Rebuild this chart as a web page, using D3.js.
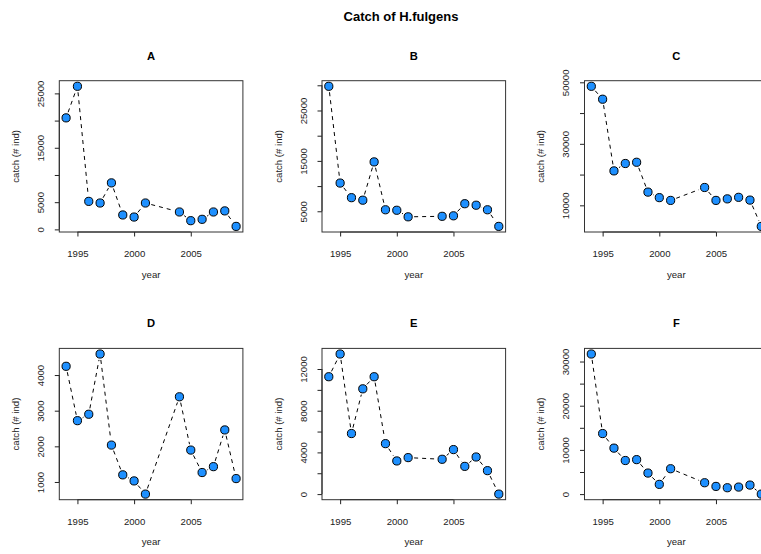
<!DOCTYPE html>
<html>
<head>
<meta charset="utf-8">
<script src="https://cdn.jsdelivr.net/npm/d3@7/dist/d3.min.js"></script>
<style>
  html, body { margin: 0; padding: 0; background: #fff; overflow: hidden; }
  svg { display: block; font-family: "Liberation Sans", Arial, Helvetica, sans-serif; }
</style>
</head>
<body>
<svg id="chart" width="761" height="554"></svg>
<script>
// Survey years (2002-2003 not sampled)
const years = [1994, 1995, 1996, 1997, 1998, 1999, 2000, 2001, 2004, 2005, 2006, 2007, 2008, 2009];

// Catch (number of individuals) per zone
const catchA = [20500, 26300, 5150, 4850, 8550, 2650, 2270, 4850, 3200, 1600, 1850, 3200, 3400, 550];
const catchB = [29800, 10600, 7700, 7200, 14800, 5300, 5200, 3900, 4000, 4100, 6500, 6200, 5300, 2000];
const catchC = [48700, 44500, 21200, 23600, 24000, 14300, 12500, 11600, 15800, 11600, 12100, 12600, 11700, 3150];
const catchD = [4245, 2720, 2900, 4590, 2035, 1200, 1030, 660, 3390, 1895, 1265, 1430, 2460, 1095];
const catchE = [11260, 13440, 5810, 10100, 11260, 4840, 3180, 3500, 3340, 4270, 2660, 3560, 2250, 0];
const catchF = [31700, 13700, 10400, 7600, 7800, 4760, 2200, 5740, 2570, 1740, 1440, 1590, 2040, 0];

// Axis ticks
const xTicks = [1995, 2000, 2005];
const yTicksA = [0, 5000, 10000, 15000, 20000, 25000];
const yLabelsA = [0, 5000, 15000, 25000];
const yTicksB = [5000, 10000, 15000, 20000, 25000, 30000];
const yLabelsB = [5000, 15000, 25000];
const yTicksC = [10000, 20000, 30000, 40000, 50000];
const yLabelsC = [10000, 30000, 50000];
const yTicksD = [1000, 2000, 3000, 4000];
const yLabelsD = [1000, 2000, 3000, 4000];
const yTicksE = [0, 2000, 4000, 6000, 8000, 10000, 12000];
const yLabelsE = [0, 4000, 8000, 12000];
const yTicksF = [0, 5000, 10000, 15000, 20000, 25000, 30000];
const yLabelsF = [0, 10000, 20000, 30000];

const panelNames = ["A", "B", "C", "D", "E", "F"];

const panels = [
  { name: panelNames[0], values: catchA, ticks: yTicksA, labels: yLabelsA },
  { name: panelNames[1], values: catchB, ticks: yTicksB, labels: yLabelsB },
  { name: panelNames[2], values: catchC, ticks: yTicksC, labels: yLabelsC },
  { name: panelNames[3], values: catchD, ticks: yTicksD, labels: yLabelsD },
  { name: panelNames[4], values: catchE, ticks: yTicksE, labels: yLabelsE },
  { name: panelNames[5], values: catchF, ticks: yTicksF, labels: yLabelsF }
];

const svg = d3.select("#chart");

// Layout of the 2 x 3 grid
const colLeft = [59.3, 322, 584.5];
const rowTop = [80.7, 348.4];
const boxW = 183.6;
const boxH = 151.3;
const tickLen = 4.5;
const tickFont = 9.6;
const pointR = 4.1;
const gap = 6;

// Pad a numeric range by 4% on each side
function padded(lo, hi) {
  const d = (hi - lo) * 0.04;
  return [lo - d, hi + d];
}

svg.append("text")
  .attr("x", 401)
  .attr("y", 20.5)
  .attr("text-anchor", "middle")
  .attr("font-size", 13)
  .attr("font-weight", "bold")
  .attr("fill", "#000")
  .text("Catch of H.fulgens");

panels.forEach((p, i) => {
  const left = colLeft[i % 3];
  const top = rowTop[Math.floor(i / 3)];
  const g = svg.append("g").attr("transform", `translate(${left},${top})`);

  const x = d3.scaleLinear()
    .domain(padded(d3.min(years), d3.max(years)))
    .range([0, boxW]);
  const y = d3.scaleLinear()
    .domain(padded(d3.min(p.values), d3.max(p.values)))
    .range([boxH, 0]);

  // Panel title
  g.append("text")
    .attr("x", boxW / 2)
    .attr("y", -21)
    .attr("text-anchor", "middle")
    .attr("font-size", 11.2)
    .attr("font-weight", "bold")
    .text(p.name);

  // Bottom axis
  const xAxis = d3.axisBottom(x)
    .tickValues(xTicks)
    .tickFormat(d3.format("d"))
    .tickSizeInner(tickLen)
    .tickSizeOuter(0)
    .tickPadding(13.5);
  const gx = g.append("g").attr("transform", `translate(0,${boxH})`).call(xAxis);
  gx.select(".domain")
    .attr("d", `M${x(xTicks[0])},0H${x(xTicks[xTicks.length - 1])}`)
    .attr("stroke", "#222");
  gx.selectAll(".tick line").attr("stroke", "#222");
  gx.selectAll(".tick text")
    .attr("font-size", tickFont)
    .attr("font-family", "Liberation Sans, Arial, sans-serif")
    .attr("fill", "#222");

  // Left axis: all ticks, labels only where they fit
  const yAxis = d3.axisLeft(y)
    .tickValues(p.ticks)
    .tickFormat(d => (p.labels.includes(d) ? String(d) : ""))
    .tickSizeInner(tickLen)
    .tickSizeOuter(0);
  const gy = g.append("g").call(yAxis);
  gy.select(".domain")
    .attr("d", `M0,${y(p.ticks[0])}V${y(p.ticks[p.ticks.length - 1])}`)
    .attr("stroke", "#222");
  gy.selectAll(".tick line").attr("stroke", "#222");
  gy.selectAll(".tick text")
    .attr("x", null)
    .attr("dy", null)
    .attr("transform", "translate(-15.3,0) rotate(-90)")
    .attr("text-anchor", "middle")
    .attr("font-size", tickFont)
    .attr("font-family", "Liberation Sans, Arial, sans-serif")
    .attr("fill", "#222");

  // Frame around plotting region
  g.append("rect")
    .attr("x", 0).attr("y", 0)
    .attr("width", boxW).attr("height", boxH)
    .attr("fill", "none")
    .attr("stroke", "#333")
    .attr("stroke-width", 1);

  // Axis titles
  g.append("text")
    .attr("x", boxW / 2)
    .attr("y", boxH + 45.7)
    .attr("text-anchor", "middle")
    .attr("font-size", tickFont)
    .attr("fill", "#222")
    .text("year");
  g.append("text")
    .attr("transform", `translate(-40.3,${boxH / 2}) rotate(-90)`)
    .attr("text-anchor", "middle")
    .attr("font-size", tickFont)
    .attr("fill", "#222")
    .text("catch (# ind)");

  // Dashed connectors, broken around each point
  const pts = years.map((yr, k) => [x(yr), y(p.values[k])]);
  const segs = d3.pairs(pts).map(([a, b]) => {
    const dx = b[0] - a[0], dy = b[1] - a[1];
    const len = Math.hypot(dx, dy);
    if (len <= 2 * gap) return null;
    const ux = dx / len, uy = dy / len;
    return [a[0] + ux * gap, a[1] + uy * gap, b[0] - ux * gap, b[1] - uy * gap];
  }).filter(s => s);
  g.selectAll("line.seg")
    .data(segs)
    .join("line")
    .attr("class", "seg")
    .attr("x1", d => d[0]).attr("y1", d => d[1])
    .attr("x2", d => d[2]).attr("y2", d => d[3])
    .attr("stroke", "#000")
    .attr("stroke-width", 1)
    .attr("stroke-dasharray", "4,4");

  // Points
  g.selectAll("circle.pt")
    .data(years.map((yr, k) => ({ yr, v: p.values[k] })))
    .join("circle")
    .attr("class", "pt")
    .attr("cx", d => x(d.yr))
    .attr("cy", d => y(d.v))
    .attr("r", pointR)
    .attr("fill", "#1E90FF")
    .attr("stroke", "#000")
    .attr("stroke-width", 1);
});
</script>
</body>
</html>
